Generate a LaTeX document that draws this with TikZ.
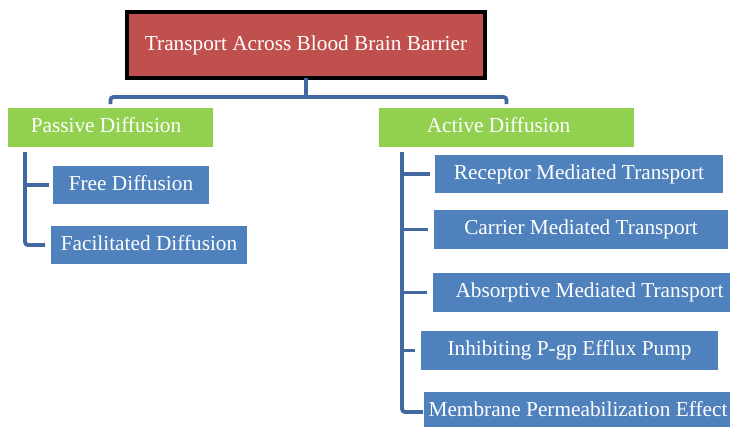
\documentclass[tikz,border=0pt]{standalone}
\usepackage{fontspec}
\setmainfont{Liberation Serif}
\definecolor{rootred}{RGB}{192,80,77}
\definecolor{leafgreen}{RGB}{146,208,80}
\definecolor{boxblue}{RGB}{79,129,189}
\definecolor{linkblue}{RGB}{66,104,160}
\begin{document}
\begin{tikzpicture}[x=1pt,y=-1pt,
  every node/.style={inner sep=0pt,outer sep=0pt,text=white,
    font=\fontsize{21.3}{25}\selectfont,text height=15pt,text depth=5pt},
  rootbox/.style={fill=rootred,draw=black,line width=4pt,minimum width=358pt,minimum height=66pt},
  greenbox/.style={fill=leafgreen,minimum height=39pt},
  bluebox/.style={fill=boxblue,minimum height=38.5pt},
  conn/.style={draw=linkblue,line width=3.8pt,rounded corners=3pt}]
\fill[white] (0,0) rectangle (730,426);
\useasboundingbox (0,0) rectangle (730,426);

\node[rootbox] (root) at (306,45) {Transport Across Blood Brain Barrier};

\node[greenbox,minimum width=205pt] (passive) at (110.5,127.5) {\hspace*{-9pt}Passive Diffusion};
\node[greenbox,minimum width=255pt] (active) at (506.5,127.5) {\hspace*{-16pt}Active Diffusion};

\node[bluebox,minimum width=156pt] (free) at (131,185) {Free Diffusion};
\node[bluebox,minimum width=196pt] (facil) at (149,245) {Facilitated Diffusion};

\node[bluebox,minimum width=288pt] (recep) at (579,174) {Receptor Mediated Transport};
\node[bluebox,minimum width=294pt] (carrier) at (581,229.5) {Carrier Mediated Transport};
\node[bluebox,minimum width=313pt] (absorp) at (589.5,292.5) {Absorptive Mediated Transport};
\node[bluebox,minimum width=297pt] (inhib) at (569.5,350.5) {Inhibiting P-gp Efflux Pump};
\node[bluebox,minimum width=308pt] (membr) at (578,411) {Membrane Permeabilization Effect};

% top connector
\coordinate (bar) at (306,97);
\draw[conn] (root.south) -- (bar);
\draw[conn] ([yshift=4pt]passive.north) |- (bar) -| ([yshift=4pt]active.north);

% left tree
\coordinate (ltop) at (25,152);
\draw[conn] (ltop) |- ([xshift=-6pt]facil.west);
\draw[conn] (ltop |- free.west) -- ([xshift=-4pt]free.west);

% right tree
\coordinate (rtop) at (402,152);
\draw[conn] (rtop) |- ([xshift=-1pt,yshift=-1pt]membr.west);
\draw[conn] (rtop |- recep.west) -- ([xshift=-5pt]recep.west);
\draw[conn] (rtop |- carrier.west) -- ([xshift=-6pt]carrier.west);
\draw[conn] (rtop |- absorp.west) -- ([xshift=-6pt]absorp.west);
\draw[conn] (rtop |- inhib.west) -- ([xshift=-6pt]inhib.west);
\end{tikzpicture}
\end{document}
